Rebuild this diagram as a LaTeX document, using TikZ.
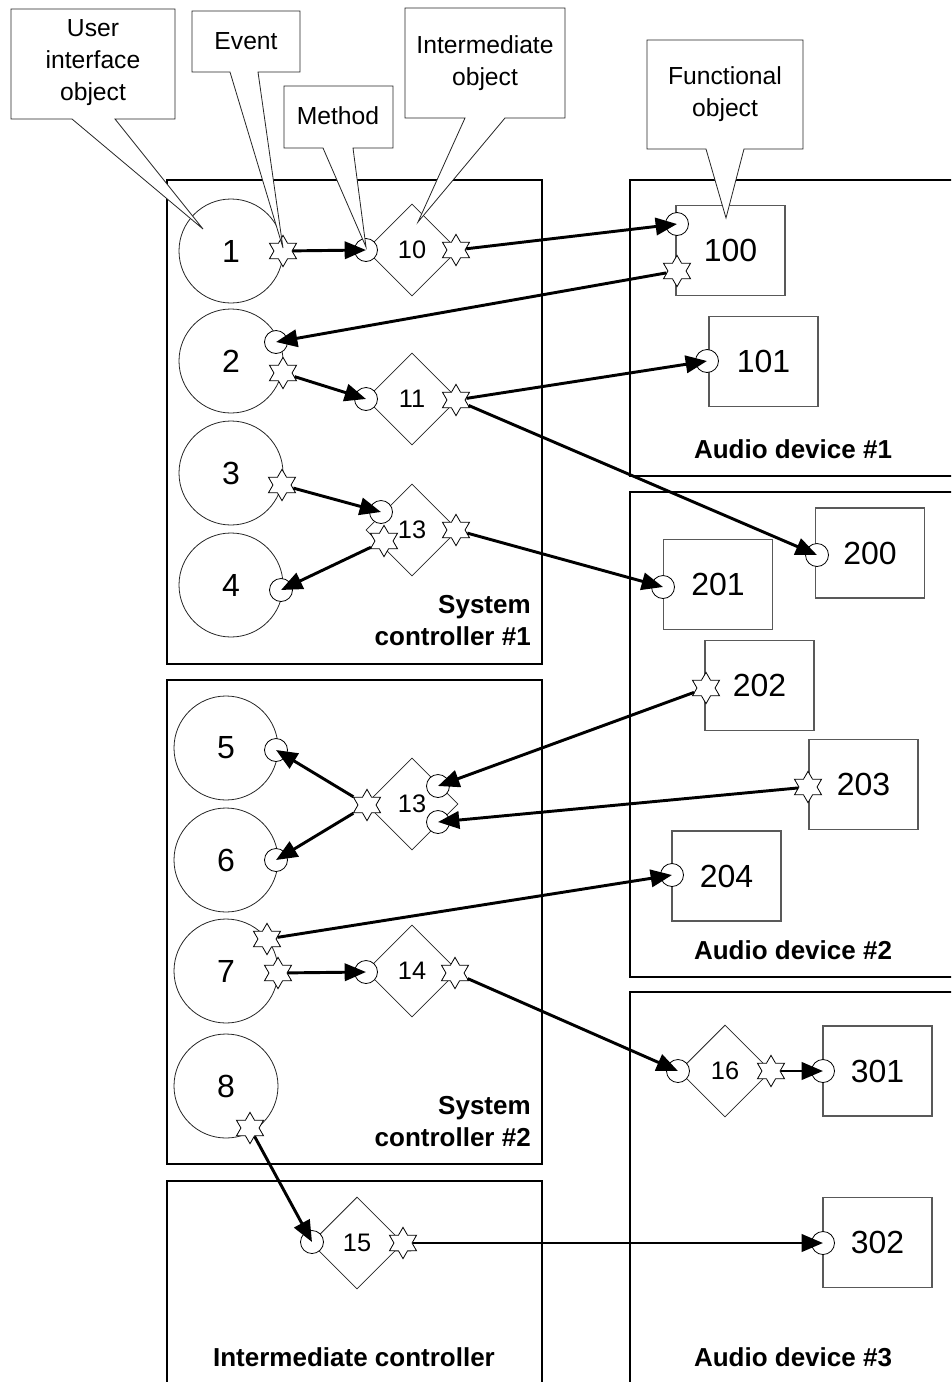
\documentclass[tikz,border=0pt]{standalone}
\usepackage{fontspec}
\setmainfont{Liberation Sans}
\usetikzlibrary{shapes.geometric,arrows.meta}

\begin{document}
\begin{tikzpicture}[x=0.75pt,y=-0.75pt,
  box/.style={draw=black, line width=1.2pt},
  grouplabel/.style={font=\fontsize{19.5}{24}\selectfont\bfseries, align=right, inner sep=0pt},
  uiobj/.style={circle, draw=black!85, line width=0.6pt, minimum size=78pt, inner sep=0pt, font=\fontsize{24}{28}\selectfont},
  midobj/.style={diamond, draw=black!85, line width=0.6pt, minimum size=69pt, inner sep=0pt, font=\fontsize{19}{22}\selectfont},
  funcobj/.style={rectangle, draw=black!65, line width=0.9pt, minimum width=81.75pt, minimum height=67.5pt, inner sep=0pt, font=\fontsize{24}{28}\selectfont},
  meth/.style={circle, draw=black, fill=white, line width=0.6pt, minimum size=17.25pt, inner sep=0pt},
  evt/.style={star, star points=6, star point ratio=1.732, draw=black, fill=white, line width=0.6pt, minimum size=23.5pt, inner sep=0pt},
  conn/.style={line width=2.2pt, -{Triangle[length=16pt,width=13pt]}},
  callout/.style={draw=black!85, fill=white, line width=0.6pt, line join=miter},
  callouttext/.style={font=\fontsize{18.5}{24}\selectfont, align=center, inner sep=0pt}
]
\useasboundingbox (0,0) rectangle (951,1382);
\clip (0,0) rectangle (951,1382);

% ---- controllers and devices ----
\draw[box] (167,180) rectangle (542,664);
\draw[box] (167,680) rectangle (542,1164);
\draw[box] (167,1181) rectangle (542,1400);
\draw[box] (630,180) rectangle (970,476);
\draw[box] (630,492) rectangle (970,977);
\draw[box] (630,992) rectangle (970,1400);

\node[grouplabel, anchor=east] (lsc1) at (531,621) {System\\controller \#1};
\node[grouplabel, anchor=east] (lsc2) at (531,1122) {System\\controller \#2};
\node[grouplabel, align=center] (lic) at (354,1357) {Intermediate controller};
\node[grouplabel, align=center] (lad1) at (793,449) {Audio device \#1};
\node[grouplabel, align=center] (lad2) at (793,950) {Audio device \#2};
\node[grouplabel, align=center] (lad3) at (793,1357) {Audio device \#3};

% ---- user interface objects ----
\node[uiobj] (c1) at (231,251) {1};
\node[uiobj] (c2) at (231,361) {2};
\node[uiobj] (c3) at (231,473) {3};
\node[uiobj] (c4) at (231,585) {4};
\node[uiobj] (c5) at (226,748) {5};
\node[uiobj] (c6) at (226,860) {6};
\node[uiobj] (c7) at (226,971) {7};
\node[uiobj] (c8) at (226,1086) {8};

% ---- intermediate objects ----
\node[midobj] (d10) at (412,250) {10};
\node[midobj] (d11) at (412,399) {11};
\node[midobj] (d13a) at (412,530) {13};
\node[midobj] (d13b) at (412,804) {13};
\node[midobj] (d14) at (412,971) {14};
\node[midobj] (d15) at (357,1243) {15};
\node[midobj] (d16) at (725,1071) {16};

% ---- functional objects ----
\node[funcobj] (r100) at (730.5,250.5) {100};
\node[funcobj] (r101) at (763.5,361.5) {101};
\node[funcobj] (r200) at (870,553) {200};
\node[funcobj] (r201) at (718,584.5) {201};
\node[funcobj] (r202) at (759.5,685.5) {202};
\node[funcobj] (r203) at (863.5,784.5) {203};
\node[funcobj] (r204) at (726.5,876) {204};
\node[funcobj] (r301) at (877.5,1071) {301};
\node[funcobj] (r302) at (877.5,1242.5) {302};

% ---- methods ----
\node[meth] (m10) at (366,250) {};
\node[meth] (m100) at (677,224) {};
\node[meth] (mc2) at (276,342) {};
\node[meth] (m11) at (366,399) {};
\node[meth] (m101) at (707,361) {};
\node[meth] (m200) at (817,555) {};
\node[meth] (m13a) at (381,512) {};
\node[meth] (mc4) at (281,590) {};
\node[meth] (m201) at (663,587) {};
\node[meth] (m13b1) at (438,786) {};
\node[meth] (m13b2) at (438,822) {};
\node[meth] (mc5) at (276,750) {};
\node[meth] (mc6) at (276,860) {};
\node[meth] (m204) at (672,875) {};
\node[meth] (m14) at (366,972) {};
\node[meth] (m16) at (678,1071) {};
\node[meth] (m301) at (823,1071) {};
\node[meth] (m15) at (312,1242) {};
\node[meth] (m302) at (823,1243) {};

% ---- events ----
\node[evt] (ec1) at (283,251) {};
\node[evt] (e10) at (456,250) {};
\node[evt] (e100) at (677,271) {};
\node[evt] (ec2) at (283,373) {};
\node[evt] (e11) at (456,400) {};
\node[evt] (ec3) at (282,485) {};
\node[evt] (e13a1) at (384,541) {};
\node[evt] (e13a2) at (456,530) {};
\node[evt] (e202) at (706,688) {};
\node[evt] (e203) at (808,787) {};
\node[evt] (e13b) at (367,805) {};
\node[evt] (ec7a) at (267,939) {};
\node[evt] (ec7b) at (278,973) {};
\node[evt] (e14) at (455,973) {};
\node[evt] (e16) at (771,1071) {};
\node[evt] (ec8) at (250,1128) {};
\node[evt] (e15) at (403,1243) {};

% ---- message flows ----
\draw[conn] (ec1) -- (m10.center);
\draw[conn] (e10) -- (m100.center);
\draw[conn] (e100) -- (mc2.center);
\draw[conn] (ec2) -- (m11.center);
\draw[conn] (e11) -- (m101.center);
\draw[conn] (e11) -- (m200.center);
\draw[conn] (ec3) -- (m13a.center);
\draw[conn] (e13a1) -- (mc4.center);
\draw[conn] (e13a2) -- (m201.center);
\draw[conn] (e202) -- (m13b1.center);
\draw[conn] (e203) -- (m13b2.center);
\draw[conn] (e13b) -- (mc5.center);
\draw[conn] (e13b) -- (mc6.center);
\draw[conn] (ec7a) -- (m204.center);
\draw[conn] (ec7b) -- (m14.center);
\draw[conn] (e14) -- (m16.center);
\draw[conn] (e16) -- (m301.center);
\draw[conn] (ec8) -- (m15.center);
\draw[conn] (e15) -- (m302.center);

% ---- callouts ----
\coordinate (uitip) at (203,229);
\coordinate (evtip) at (283,248);
\coordinate (mtip) at (366,247);
\coordinate (itip) at (418,222);
\coordinate (ftip) at (726,218);

\draw[callout] (11,9) -- (175,9) -- (175,119) -- (115,119) -- (uitip) -- (72,119) -- (11,119) -- cycle;
\node[callouttext] (tui) at (93,63) {User\\interface\\object};

\draw[callout] (192,11) -- (300,11) -- (300,72) -- (258,72) -- (evtip) -- (230,72) -- (192,72) -- cycle;
\node[callouttext] (tev) at (246,41) {Event};

\draw[callout] (284,86) -- (393,86) -- (393,148) -- (353,148) -- (mtip) -- (323,148) -- (284,148) -- cycle;
\node[callouttext] (tme) at (338,116) {Method};

\draw[callout] (405,8) -- (565,8) -- (565,118) -- (505,118) -- (itip) -- (465,118) -- (405,118) -- cycle;
\node[callouttext] (tin) at (485,63) {Intermediate\\object};

\draw[callout] (647,40) -- (803,40) -- (803,149) -- (744,149) -- (ftip) -- (706,149) -- (647,149) -- cycle;
\node[callouttext] (tfu) at (725,94) {Functional\\object};
\end{tikzpicture}
\end{document}
